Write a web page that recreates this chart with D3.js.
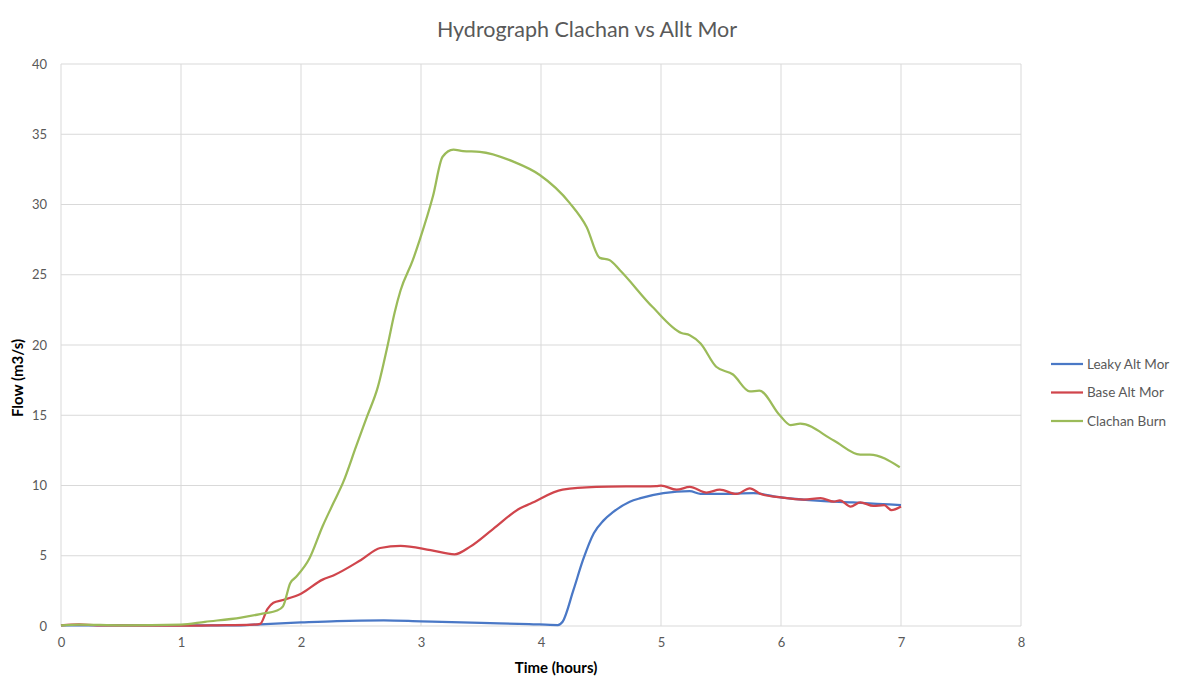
<!DOCTYPE html>
<html>
<head>
<meta charset="utf-8">
<script src="https://cdn.jsdelivr.net/npm/d3@7"></script>
<style>
body { margin: 0; background: #fff; }
svg text { font-family: Lato, "Open Sans", sans-serif; }
</style>
</head>
<body>
<svg id="chart" width="1178" height="677"></svg>
<script>
// values, time in hours, flow in m3/s
var leakyT = [0, 0.5, 1, 1.5, 1.66, 2, 2.3, 2.69, 3, 3.5, 3.9, 4.14, 4.18, 4.27, 4.35, 4.44, 4.52, 4.6, 4.74, 4.83, 5.02, 5.24, 5.33, 5.5, 5.77, 6, 6.33, 6.6, 6.8, 7];
var leakyV = [0.05, 0.05, 0.05, 0.05, 0.12, 0.25, 0.35, 0.4, 0.33, 0.22, 0.14, 0.07, 0.3, 2.55, 4.7, 6.6, 7.5, 8.1, 8.85, 9.1, 9.45, 9.6, 9.4, 9.4, 9.45, 9.15, 8.9, 8.8, 8.7, 8.6];

var baseT = [0, 0.15, 0.3, 1, 1.3, 1.6, 1.66, 1.72, 1.77, 1.85, 2, 2.18, 2.27, 2.5, 2.66, 2.83, 3.08, 3.28, 3.41, 3.6, 3.83, 3.91, 4.18, 4.46, 4.96, 5, 5.13, 5.24, 5.38, 5.49, 5.63, 5.74, 5.83, 6, 6.19, 6.33, 6.44, 6.49, 6.58, 6.66, 6.77, 6.86, 6.92, 7];
var baseV = [0.05, 0.12, 0.05, 0.02, 0.05, 0.1, 0.15, 1.2, 1.65, 1.85, 2.3, 3.3, 3.6, 4.7, 5.55, 5.7, 5.4, 5.1, 5.65, 6.9, 8.4, 8.7, 9.7, 9.9, 9.96, 10.0, 9.7, 9.9, 9.5, 9.7, 9.4, 9.8, 9.4, 9.15, 9.0, 9.1, 8.85, 8.95, 8.5, 8.8, 8.55, 8.6, 8.25, 8.5];

var burnT = [0, 0.15, 0.5, 1, 1.2, 1.5, 1.66, 1.8, 1.85, 1.91, 1.96, 2.07, 2.18, 2.27, 2.35, 2.46, 2.55, 2.64, 2.72, 2.78, 2.83, 2.93, 2.99, 3.1, 3.18, 3.27, 3.35, 3.49, 3.77, 3.99, 4.24, 4.38, 4.49, 4.57, 4.66, 4.93, 5.17, 5.24, 5.33, 5.46, 5.6, 5.74, 5.82, 5.99, 6.08, 6.16, 6.44, 6.66, 6.74, 6.99];
var burnV = [0.05, 0.1, 0.05, 0.1, 0.3, 0.6, 0.85, 1.1, 1.4, 3.05, 3.5, 4.8, 7.1, 8.75, 10.2, 12.8, 14.9, 17.0, 19.9, 22.3, 23.9, 26.0, 27.5, 30.6, 33.4, 33.9, 33.8, 33.75, 33.05, 32.1, 30.1, 28.4, 26.2, 26.05, 25.3, 22.7, 20.85, 20.7, 20.1, 18.45, 17.9, 16.7, 16.75, 15.0, 14.3, 14.4, 13.2, 12.2, 12.2, 11.3];

var seriesNames = ["Leaky Alt Mor", "Base Alt Mor", "Clachan Burn"];
var seriesColors = ["#4a78c6", "#d0454c", "#9bbb59"];
var xTicks = [0, 1, 2, 3, 4, 5, 6, 7, 8];
var yTicks = [0, 5, 10, 15, 20, 25, 30, 35, 40];

var series = [
  {name: seriesNames[0], t: leakyT, v: leakyV},
  {name: seriesNames[1], t: baseT, v: baseV},
  {name: seriesNames[2], t: burnT, v: burnV}
];

var svg = d3.select("#chart");
var plotL = 61, plotR = 1021, plotT = 64, plotB = 626;

var x = d3.scaleLinear().domain([0, 8]).range([plotL, plotR]);
var y = d3.scaleLinear().domain([0, 40]).range([plotB, plotT]);

// grid
svg.append("g").selectAll("line").data(yTicks).enter().append("line")
  .attr("x1", plotL).attr("x2", plotR)
  .attr("y1", d => y(d)).attr("y2", d => y(d))
  .attr("stroke", "#d9d9d9").attr("stroke-width", 1);
svg.append("g").selectAll("line").data(xTicks).enter().append("line")
  .attr("x1", d => x(d)).attr("x2", d => x(d))
  .attr("y1", plotT).attr("y2", plotB)
  .attr("stroke", "#d9d9d9").attr("stroke-width", 1);

// axes, only the labels shown
var xAxis = svg.append("g").attr("transform", "translate(0," + plotB + ")")
  .call(d3.axisBottom(x).tickValues(xTicks).tickSize(0).tickPadding(12));
xAxis.select(".domain").remove();
xAxis.selectAll("text").attr("fill", "#595959").style("font-size", "13px");

var yAxis = svg.append("g").attr("transform", "translate(" + plotL + ",0)")
  .call(d3.axisLeft(y).tickValues(yTicks).tickSize(0).tickPadding(14));
yAxis.select(".domain").remove();
yAxis.selectAll("text").attr("fill", "#595959").style("font-size", "13px");

// lines
var line = d3.line()
  .x(d => x(d[0])).y(d => y(d[1]))
  .curve(d3.curveMonotoneX);

series.forEach(function (s, i) {
  var pts = s.t.map((t, j) => [t, s.v[j]]);
  svg.append("path").datum(pts)
    .attr("d", line)
    .attr("fill", "none")
    .attr("stroke", seriesColors[i])
    .attr("stroke-width", 2.25)
    .attr("stroke-linejoin", "round");
});

// titles
svg.append("text").attr("x", 587).attr("y", 37)
  .attr("text-anchor", "middle").attr("fill", "#595959")
  .style("font-size", "21.5px").text("Hydrograph Clachan vs Allt Mor");

svg.append("text").attr("x", 556).attr("y", 673)
  .attr("text-anchor", "middle").attr("fill", "#000")
  .style("font-size", "15px").style("font-weight", "bold").text("Time (hours)");

svg.append("text").attr("transform", "translate(23,378) rotate(-90)")
  .attr("text-anchor", "middle").attr("fill", "#000")
  .style("font-size", "15px").style("font-weight", "bold").text("Flow (m3/s)");

// legend
var legend = svg.append("g");
seriesNames.forEach(function (n, i) {
  var ly = 364 + i * 28.5;
  legend.append("line").attr("x1", 1051).attr("x2", 1083)
    .attr("y1", ly).attr("y2", ly)
    .attr("stroke", seriesColors[i]).attr("stroke-width", 2.25);
  legend.append("text").attr("x", 1087).attr("y", ly + 4.5)
    .attr("fill", "#595959").style("font-size", "13.5px").text(n);
});
</script>
</body>
</html>
